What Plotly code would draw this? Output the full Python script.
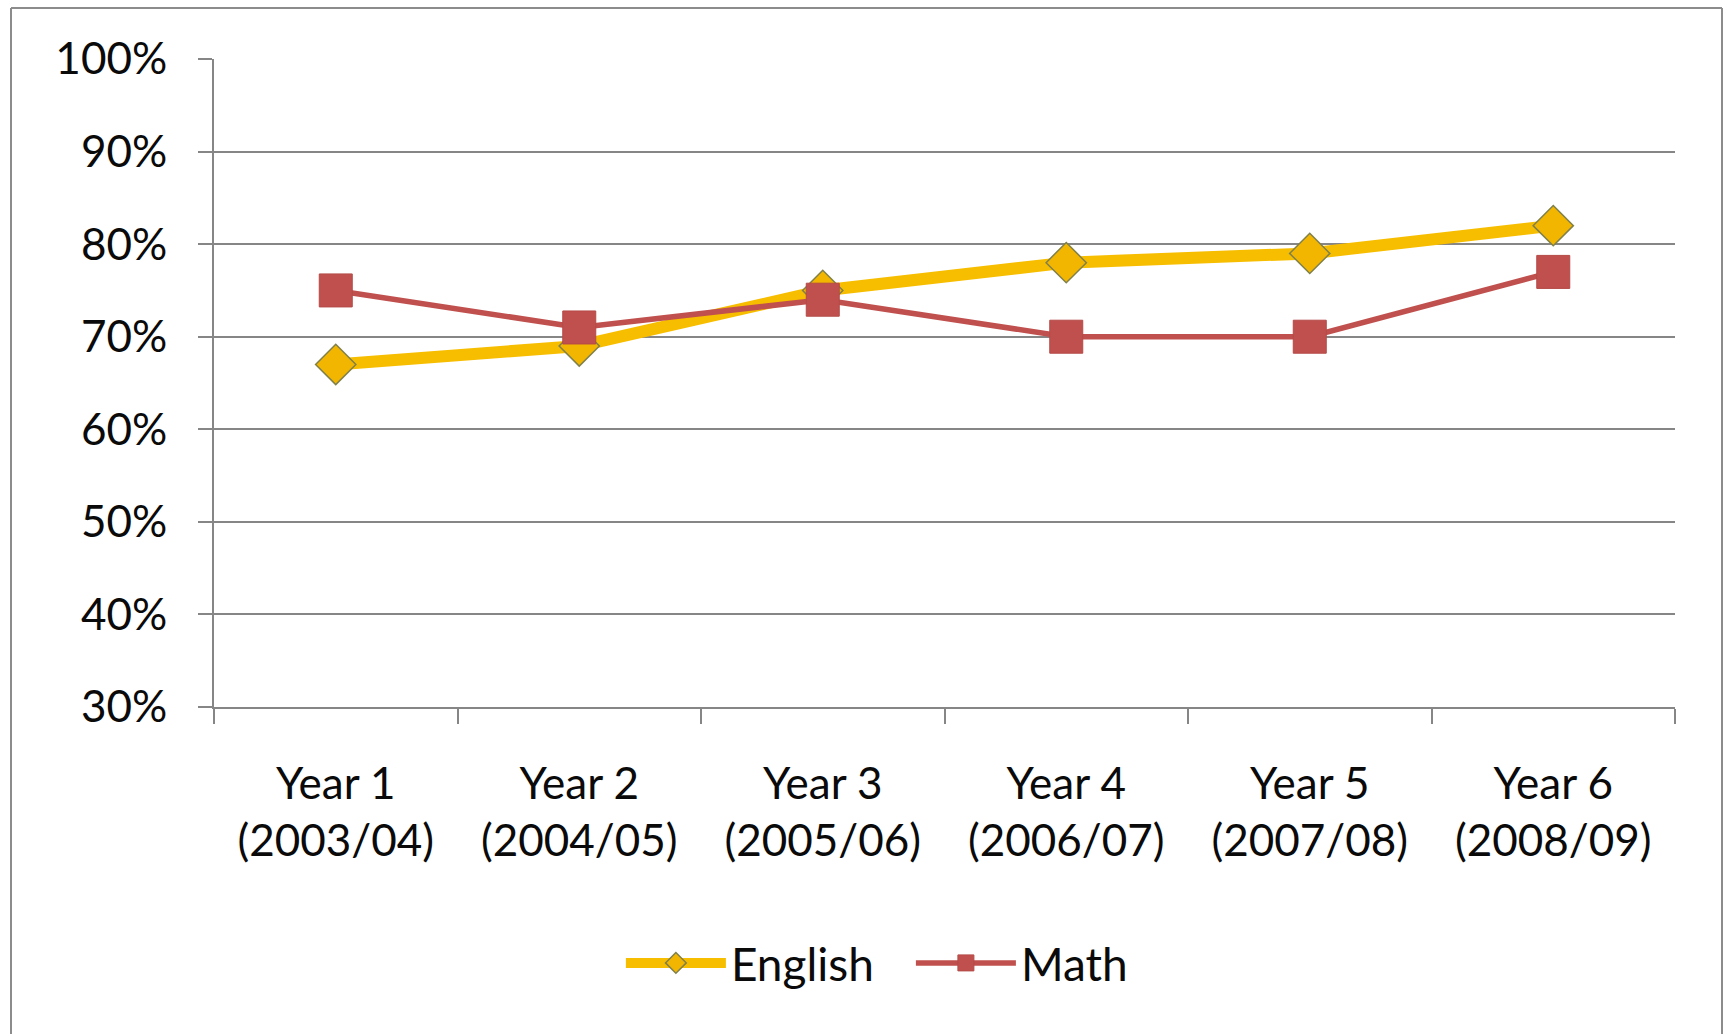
import plotly.graph_objects as go

categories = ["Year 1<br>(2003/04)", "Year 2<br>(2004/05)", "Year 3<br>(2005/06)",
              "Year 4<br>(2006/07)", "Year 5<br>(2007/08)", "Year 6<br>(2008/09)"]
english = [67, 69, 75, 78, 79, 82]
math = [75, 71, 74, 70, 70, 77]
y_ticks = [30, 40, 50, 60, 70, 80, 90, 100]
y_tick_labels = ["30%", "40%", "50%", "60%", "70%", "80%", "90%", "100%"]

W, H = 1735, 1034
L, R, T, B = 214, 60, 59, 327

FONT = "Lato"
FS = 44
fig = go.Figure()
fig.add_trace(go.Scatter(
    x=categories, y=english, name="English", mode="lines+markers",
    line=dict(color="#F7BE00", width=12),
    marker=dict(symbol="diamond", size=31, color="#F2B600",
                line=dict(color="#80804A", width=1.5)),
))
fig.add_trace(go.Scatter(
    x=categories, y=math, name="Math", mode="lines+markers",
    line=dict(color="#C0504D", width=5.5),
    marker=dict(symbol="square", size=33, color="#C0504D",
                line=dict(color="#B44A47", width=1)),
))

pw = W - L - R
ph = H - T - B
def px_x(x):
    return (x - L) / pw
def px_y(y):
    return (H - B - y) / ph

border = dict(color="#8C8C8C", width=2)
for (x0, y0, x1, y1) in [(11, 8, 11, 1040), (11, 8, 1722, 8), (1722, 8, 1722, 1040)]:
    fig.add_shape(type="line", xref="paper", yref="paper",
                  x0=px_x(x0), y0=px_y(y0), x1=px_x(x1), y1=px_y(y1), line=border)

fig.update_layout(
    width=W, height=H,
    margin=dict(l=L, r=R, t=T, b=B),
    paper_bgcolor="white", plot_bgcolor="white",
    font=dict(family=FONT, size=FS, color="#0a0a0a"),
    showlegend=True,
    legend=dict(orientation="h", x=0.477, xanchor="center", y=px_y(963), yanchor="middle",
                itemwidth=100, entrywidth=175,
                font=dict(size=46, family=FONT, color="#0a0a0a"),
                bgcolor="rgba(0,0,0,0)"),
    xaxis=dict(type="category", showgrid=False, showline=True, linecolor="#868686", linewidth=2,
               ticks="outside", tickson="boundaries", ticklen=15, tickcolor="#868686", tickwidth=2,
               ticklabelstandoff=37, tickfont=dict(size=FS, family=FONT, color="#0a0a0a"),
               range=[-0.5, 5.5], zeroline=False, mirror=False),
    yaxis=dict(range=[30, 100], tickmode="array", tickvals=y_ticks, ticktext=y_tick_labels,
               showgrid=True, gridcolor="#868686", gridwidth=2,
               showline=True, linecolor="#868686", linewidth=2,
               ticks="outside", ticklen=14, tickcolor="#868686", tickwidth=2,
               ticklabelstandoff=22, tickfont=dict(size=FS, family=FONT, color="#0a0a0a"),
               zeroline=False),
)

fig.write_html("out.html")
